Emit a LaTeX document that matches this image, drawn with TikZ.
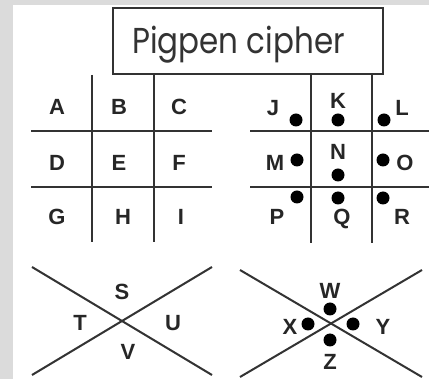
\documentclass[tikz,border=0pt]{standalone}
\usepackage{fontspec}
\setmainfont{Liberation Sans}
\newfontfamily\lettfont{Liberation Sans Bold}
\newfontfamily\titlefont{Poppins}
\begin{document}
\begin{tikzpicture}[x=1pt,y=-1pt,
  gridline/.style={line width=2pt,draw=black!80},
  letter/.style={font=\lettfont\fontsize{22}{22}\selectfont,text=black!85,inner sep=0pt},
  dot/.style={circle,fill=black,inner sep=0pt,minimum size=13pt}]
\useasboundingbox (0,0) rectangle (429,379);
\fill[gray!28] (0,0) rectangle (429,379);
\fill[white] (13,5) rectangle (429,379);
% title
\node[draw=black!80,line width=1.5pt,fill=white,minimum width=270pt,minimum height=66pt,inner sep=0pt] (title) at (248,41) {};
\node[anchor=base,inner sep=0pt,text=black!80,font=\titlefont\fontsize{36}{36}\selectfont] (tt) at (238.5,54) {\scalebox{0.86}[1]{Pigpen cipher}};
% left grid
\coordinate (lv1t) at (92,75); \coordinate (lv1b) at (92,242);
\coordinate (lv2t) at (154,75); \coordinate (lv2b) at (154,242);
\coordinate (lh1l) at (31,131); \coordinate (lh1r) at (212,131);
\coordinate (lh2l) at (31,187); \coordinate (lh2r) at (212,187);
\draw[gridline] (lv1t) -- (lv1b);
\draw[gridline] (lv2t) -- (lv2b);
\draw[gridline] (lh1l) -- (lh1r);
\draw[gridline] (lh2l) -- (lh2r);
\node[letter] (A) at (57,107) {A};
\node[letter] (B) at (119,107) {B};
\node[letter] (C) at (179,107) {C};
\node[letter] (D) at (57,163) {D};
\node[letter] (E) at (119,163) {E};
\node[letter] (F) at (179,163) {F};
\node[letter] (G) at (57,217) {G};
\node[letter] (H) at (123,217) {H};
\node[letter] (I) at (181,217) {I};
% right grid
\coordinate (rv1t) at (311,75); \coordinate (rv1b) at (311,243);
\coordinate (rv2t) at (372,75); \coordinate (rv2b) at (372,243);
\coordinate (rh1l) at (250,131); \coordinate (rh1r) at (429,131);
\coordinate (rh2l) at (250,187); \coordinate (rh2r) at (429,187);
\draw[gridline] (rv1t) -- (rv1b);
\draw[gridline] (rv2t) -- (rv2b);
\draw[gridline] (rh1l) -- (rh1r);
\draw[gridline] (rh2l) -- (rh2r);
\node[letter] (J) at (273,108) {J};
\node[letter] (K) at (338,101) {K};
\node[letter] (L) at (402,108) {L};
\node[dot] (dJ) at (296,120) {};
\node[dot] (dK) at (338,120) {};
\node[dot] (dL) at (384,120) {};
\node[letter] (M) at (275,163) {M};
\node[dot] (dM) at (297,160) {};
\node[letter] (N) at (338,152) {N};
\node[dot] (dN) at (338,175) {};
\node[dot] (dO) at (383,160) {};
\node[letter] (O) at (405,163) {O};
\node[dot] (dP) at (297,197) {};
\node[letter] (P) at (277,217) {P};
\node[dot] (dQ) at (338,198) {};
\node[letter] (Q) at (342,219) {Q};
\node[dot] (dR) at (383,198) {};
\node[letter] (R) at (402,217) {R};
% left X
\coordinate (lx1) at (32,267); \coordinate (lx2) at (212,375);
\coordinate (lx3) at (32,375); \coordinate (lx4) at (212,267);
\draw[gridline] (lx1) -- (lx2);
\draw[gridline] (lx3) -- (lx4);
\node[letter] (S) at (122,292) {S};
\node[letter] (T) at (80,323) {T};
\node[letter] (U) at (173,323) {U};
\node[letter] (V) at (128,352) {V};
% right X
\coordinate (rx1) at (240,270); \coordinate (rx2) at (422,377);
\coordinate (rx3) at (240,377); \coordinate (rx4) at (422,270);
\draw[gridline] (rx1) -- (rx2);
\draw[gridline] (rx3) -- (rx4);
\node[letter] (W) at (330,291) {W};
\node[dot] (dW) at (330,309) {};
\node[letter] (X) at (290,327) {X};
\node[dot] (dX) at (308,324) {};
\node[dot] (dY) at (353,324) {};
\node[letter] (Y) at (383,327) {Y};
\node[dot] (dZ) at (330,340) {};
\node[letter] (Z) at (330,362) {Z};
\end{tikzpicture}
\end{document}
